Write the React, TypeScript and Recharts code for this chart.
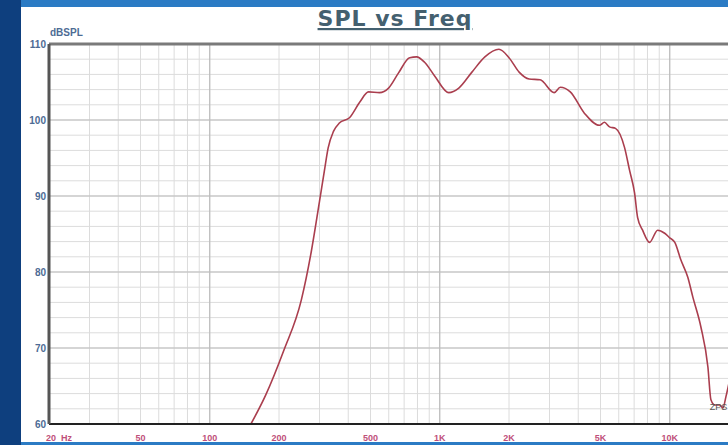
import React from "react";
import { LineChart, Line, XAxis, YAxis, CartesianGrid, ReferenceLine, ReferenceDot } from "recharts";

const freqs = [151, 175, 210, 250, 276, 300, 315, 327, 345, 366, 405, 450, 490, 547, 599, 662, 740, 793, 859, 950, 1094, 1210, 1380, 1571, 1808, 2000, 2213, 2446, 2730, 3145, 3342, 3693, 4253, 4944, 5200, 5470, 5808, 6357, 6685, 7030, 7245, 7620, 8170, 8855, 9505, 10000, 10520, 11170, 11980, 12600, 13650, 14650, 15100, 15710, 16520, 17030, 17550, 18460, 19500];
const spl = [60, 63.8, 69.7, 76.3, 82.6, 89.3, 93.3, 96.3, 98.5, 99.6, 100.3, 102.4, 103.7, 103.6, 104.2, 106.2, 108.2, 108.3, 107.6, 105.8, 103.6, 104.2, 106.3, 108.3, 109.3, 108.2, 106.3, 105.4, 105.3, 103.6, 104.3, 103.7, 100.9, 99.3, 99.7, 99.1, 98.9, 96.4, 93.4, 90.4, 87.2, 85.5, 83.9, 85.5, 85.1, 84.5, 83.9, 81.6, 79.3, 76.7, 72.8, 67.5, 63.2, 62.5, 62.5, 62.1, 63.6, 66.7, 70.5];

const xGridTicks = [20, 30, 40, 50, 60, 70, 80, 90, 100, 200, 300, 400, 500, 600, 700, 800, 900, 1000, 2000, 3000, 4000, 5000, 6000, 7000, 8000, 9000, 10000, 20000];
const xLabels: Record<number, string> = { 20: "20  Hz", 50: "50", 100: "100", 200: "200", 500: "500", 1000: "1K", 2000: "2K", 5000: "5K", 10000: "10K" };
const xMajor = [100, 1000, 10000];
const yGridTicks = [60, 62, 64, 66, 68, 70, 72, 74, 76, 78, 80, 82, 84, 86, 88, 90, 92, 94, 96, 98, 100, 102, 104, 106, 108, 110];
const yMajor = [70, 80, 90, 100];

const data = freqs.map((f, i) => ({ f, spl: spl[i] }));

const XTick = (props: any) => {
  const { x, y, payload } = props;
  const label = xLabels[payload.value];
  if (!label) return null;
  const isFirst = payload.value === 20;
  return (
    <text x={isFirst ? x - 3 : x} y={y + 15} textAnchor={isFirst ? "start" : "middle"} fontSize={9} fontWeight="bold" fontFamily="Liberation Sans, Arial, sans-serif" fill="#c0507a" style={{ whiteSpace: "pre" }}>
      {label}
    </text>
  );
};

const YTick = (props: any) => {
  const { x, y, payload } = props;
  if (payload.value % 10 !== 0) return null;
  return (
    <text x={x - 1} y={y + 4} textAnchor="end" fontSize={10} fontWeight="bold" fontFamily="Liberation Sans, Arial, sans-serif" fill="#4d6b94">
      {payload.value}
    </text>
  );
};

export default function App() {
  return (
    <div style={{ position: "fixed", left: 0, top: 0, width: 728, height: 445, overflow: "hidden", background: "#ffffff" }}>
      <div style={{ position: "absolute", left: 0, top: 0, width: 21, height: 445, background: "#0e3f7e" }} />
      <div style={{ position: "absolute", left: 21, top: 0, width: 707, height: 7, background: "#2b7bc4" }} />
      <svg style={{ position: "absolute", left: 0, top: 0 }} width={728} height={445}>
        <text x={395} y={26} textAnchor="middle" fontFamily="DejaVu Sans, sans-serif" fontWeight="bold" fontSize={22} letterSpacing={1} fill="#44606f" textDecoration="underline">
          SPL vs Freq
        </text>
        <text x={50} y={36} fontFamily="Liberation Sans, Arial, sans-serif" fontWeight="bold" fontSize={10} fill="#4d6b94">
          dBSPL
        </text>
      </svg>
      <div style={{ position: "absolute", left: 0, top: 0 }}>
        <LineChart width={760} height={445} data={data} margin={{ top: 44, right: 21, bottom: 6, left: 19 }}>
          <CartesianGrid stroke="#dcdcdc" strokeWidth={1} />
          {xMajor.map((v) => (
            <ReferenceLine key={"xm" + v} x={v} stroke="#b4b4b4" strokeWidth={1} />
          ))}
          {yMajor.map((v) => (
            <ReferenceLine key={"ym" + v} y={v} stroke="#bdbdbd" strokeWidth={1} />
          ))}
          <XAxis
            dataKey="f"
            type="number"
            scale="log"
            domain={[20, 20000]}
            ticks={xGridTicks}
            interval={0}
            allowDataOverflow
            height={15}
            tickLine={false}
            tickSize={0}
            tick={<XTick />}
            axisLine={{ stroke: "#222222", strokeWidth: 2 }}
          />
          <YAxis
            type="number"
            domain={[60, 110]}
            ticks={yGridTicks}
            interval={0}
            allowDataOverflow
            width={30}
            tickLine={false}
            tickSize={0}
            tick={<YTick />}
            axisLine={{ stroke: "#555555", strokeWidth: 3 }}
          />
          <ReferenceLine y={110} stroke="#7a7a7a" strokeWidth={3} />
          <Line type="monotone" dataKey="spl" stroke="#aa3e4e" strokeWidth={1.6} dot={false} isAnimationActive={false} />
          <ReferenceDot
            x={16300}
            y={62.3}
            r={0}
            stroke="none"
            fill="none"
            label={{ value: "ZPS", position: "center", fontSize: 9, fill: "#555555", fontFamily: "Liberation Sans, Arial, sans-serif" }}
          />
        </LineChart>
      </div>
      <div style={{ position: "absolute", left: 21, top: 442, width: 707, height: 3, background: "#2b7bc4" }} />
    </div>
  );
}
